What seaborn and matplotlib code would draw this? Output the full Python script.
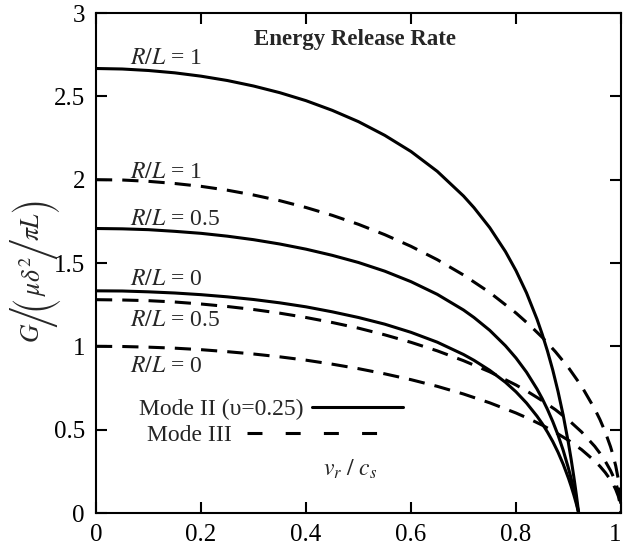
import os
import numpy as np
import pandas as pd
import matplotlib
matplotlib.use("Agg")
from matplotlib import pyplot as plt
from matplotlib.lines import Line2D
from matplotlib.font_manager import FontProperties
from matplotlib.ft2font import FT2Font
import seaborn as sns

# values
v_mode2 = [0, 0.05, 0.1, 0.15, 0.2, 0.25, 0.3, 0.35, 0.4, 0.45, 0.5, 0.55, 0.6, 0.65,
           0.7, 0.72, 0.75, 0.78, 0.8, 0.82, 0.84, 0.85, 0.86, 0.87, 0.88, 0.89,
           0.9, 0.905, 0.91, 0.912, 0.915, 0.917, 0.9194]
G2_RL1 = [2.667, 2.664, 2.655, 2.641, 2.621, 2.595, 2.562, 2.522, 2.474, 2.416, 2.348,
          2.266, 2.169, 2.050, 1.902, 1.832, 1.712, 1.568, 1.454, 1.321, 1.163, 1.072,
          0.971, 0.858, 0.730, 0.585, 0.417, 0.323, 0.220, 0.176, 0.108, 0.059, 0]
G2_RL05 = [1.707, 1.705, 1.700, 1.690, 1.678, 1.661, 1.640, 1.614, 1.583, 1.546, 1.503,
           1.451, 1.388, 1.312, 1.218, 1.173, 1.096, 1.003, 0.930, 0.845, 0.744, 0.686,
           0.621, 0.549, 0.468, 0.375, 0.267, 0.207, 0.141, 0.113, 0.069, 0.038, 0]
G2_RL0 = [1.333, 1.332, 1.327, 1.320, 1.310, 1.297, 1.281, 1.261, 1.237, 1.207, 1.173,
          1.133, 1.084, 1.025, 0.951, 0.916, 0.856, 0.784, 0.727, 0.660, 0.581, 0.536,
          0.485, 0.429, 0.365, 0.292, 0.208, 0.161, 0.110, 0.088, 0.054, 0.029, 0]

v_mode3 = [0, 0.05, 0.1, 0.15, 0.2, 0.25, 0.3, 0.35, 0.4, 0.45, 0.5, 0.55, 0.6, 0.65,
           0.7, 0.75, 0.8, 0.825, 0.85, 0.875, 0.9, 0.925, 0.95, 0.96, 0.97, 0.98,
           0.985, 0.99, 0.995, 0.999, 1.0]
G3_RL1 = [2.000, 1.998, 1.990, 1.977, 1.960, 1.937, 1.908, 1.874, 1.833, 1.786, 1.732,
          1.670, 1.600, 1.520, 1.428, 1.323, 1.200, 1.130, 1.054, 0.968, 0.872, 0.760,
          0.624, 0.560, 0.486, 0.398, 0.345, 0.282, 0.200, 0.089, 0]
G3_RL05 = [1.280, 1.278, 1.274, 1.266, 1.254, 1.239, 1.221, 1.199, 1.173, 1.143, 1.109,
           1.069, 1.024, 0.973, 0.914, 0.847, 0.768, 0.723, 0.674, 0.620, 0.558, 0.486,
           0.400, 0.358, 0.311, 0.255, 0.221, 0.181, 0.128, 0.057, 0]
G3_RL0 = [1.000, 0.999, 0.995, 0.989, 0.980, 0.968, 0.954, 0.937, 0.917, 0.893, 0.866,
          0.835, 0.800, 0.760, 0.714, 0.661, 0.600, 0.565, 0.527, 0.484, 0.436, 0.380,
          0.312, 0.280, 0.243, 0.199, 0.173, 0.141, 0.100, 0.045, 0]

x_ticks = [0, 0.2, 0.4, 0.6, 0.8, 1]
y_ticks = [0, 0.5, 1, 1.5, 2, 2.5, 3]
x_ticklabels = ["0", "0.2", "0.4", "0.6", "0.8", "1"]
y_ticklabels = ["0", "0.5", "1", "1.5", "2", "2.5", "3"]

# curve labels: (text, y position)
labels = [("1", 2.73), ("1", 2.04), ("0.5", 1.76), ("0", 1.40), ("0.5", 1.155), ("0", 0.88)]

sns.set_style("ticks")
plt.rcParams["font.family"] = ["Liberation Serif", "DejaVu Serif"]
plt.rcParams["mathtext.fontset"] = "stix"

fig = plt.figure(figsize=(6.23, 5.52), dpi=100)
ax = fig.add_axes([96 / 623, 1 - 513 / 552, 525 / 623, 500 / 552])

lw = 2.2
dash = (0, (5.3, 3.3))
for g in [G2_RL1, G2_RL05, G2_RL0]:
    sns.lineplot(x=v_mode2, y=g, ax=ax, color="black", lw=lw, sort=False)
for g in [G3_RL1, G3_RL05, G3_RL0]:
    sns.lineplot(x=v_mode3, y=g, ax=ax, color="black", lw=lw, sort=False,
                 linestyle=dash)

ax.set_xlim(0, 1)
ax.set_ylim(0, 3)
ax.set_xticks(x_ticks)
ax.set_xticklabels(x_ticklabels)
ax.set_yticks(y_ticks)
ax.set_yticklabels(y_ticklabels)
ax.tick_params(direction="in", length=8, width=1.5, labelsize=18,
               top=True, right=True, pad=8, colors="black")
ax.get_xticklabels()[-1].set_horizontalalignment("right")
for s in ax.spines.values():
    s.set_linewidth(1.5)
    s.set_color("black")
ax.set_ylabel("")
ax.set_xlabel("")

for txt, y in labels:
    ax.text(0.065, y, r"$R/L$ = " + txt, fontsize=17, ha="left", va="center")

ax.text(0.493, 2.84, "Energy Release Rate", fontsize=16.5, fontweight="bold",
        ha="center", va="center")
ax.text(0.485, 0.26, r"$v_r\ /\ c_s$", fontsize=17, ha="center", va="center")

# y label with big delimiters, built from pieces stacked bottom to top
fs = 18.5
big_path = os.path.join(matplotlib.get_data_path(), "fonts", "ttf", "STIXSizTwoSymReg.ttf")
try:
    f = FT2Font(big_path)
    ok = f.get_char_index(ord("/")) and f.get_char_index(ord("("))
    big = FontProperties(fname=big_path, size=fs) if ok else None
except Exception:
    big = None
if big is None:
    big = FontProperties(family="Liberation Serif", size=fs * 1.7)

# (text, font, overlap with the previous piece in points)
pieces = [(r"$G$", None, 0), ("/", big, 3.5), ("(", big, 2.5), (r"$\mu\delta^2$", None, 1),
          ("/", big, 2), (r"$\pi L$", None, 2), (")", big, 0.5)]
prev = fig.text(33 / 623, 1 - 343 / 552, pieces[0][0], fontsize=fs, rotation=90,
                ha="center", va="bottom")
for s, fp, ov in pieces[1:]:
    kw = {"fontproperties": fp} if fp is not None else {"fontsize": fs}
    prev = ax.annotate(s, xy=(0.5, 1), xycoords=prev, xytext=(0, -ov),
                       textcoords="offset points", ha="center", va="bottom",
                       rotation=90, annotation_clip=False, **kw)

# legend: text on the left, sample on the right
h2 = Line2D([], [], color="black", lw=2.2)
h3 = Line2D([], [], color="black", lw=2.2, linestyle=(0, (4.9, 7.6)))
leg1 = ax.legend([h2], ["Mode II (\u03c5=0.25)"], loc="center right",
                 bbox_to_anchor=(0.585, 0.623), bbox_transform=ax.transData,
                 frameon=False, markerfirst=False, fontsize=17, borderpad=0,
                 borderaxespad=0, handlelength=3.85, handletextpad=0.38)
ax.add_artist(leg1)
ax.legend([h3], ["Mode III"], loc="center right",
          bbox_to_anchor=(0.535, 0.467), bbox_transform=ax.transData,
          frameon=False, markerfirst=False, fontsize=17, borderpad=0,
          borderaxespad=0, handlelength=5.5, handletextpad=0.63)

fig.savefig("out.png", dpi=100)
